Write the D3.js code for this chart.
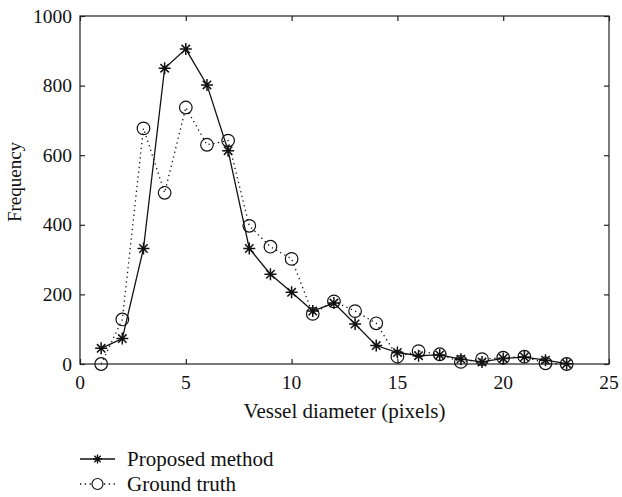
<!DOCTYPE html>
<html>
<head>
<meta charset="utf-8">
<script src="https://cdn.jsdelivr.net/npm/d3@7"></script>
<style>
  body { margin: 0; background: #fff; }
  text { font-family: "Liberation Serif", "DejaVu Serif", serif; fill: #111; }
  .ticklabel { font-size: 19.5px; }
</style>
</head>
<body>
<div class="chart"></div>
<script>
// data
var diameters = [1, 2, 3, 4, 5, 6, 7, 8, 9, 10, 11, 12, 13, 14, 15, 16, 17, 18, 19, 20, 21, 22, 23];
var proposed = [45, 73, 332, 850, 905, 802, 613, 332, 258, 206, 152, 175, 115, 53, 33, 24, 26, 14, 6, 16, 20, 11, 1];
var groundTruth = [0, 128, 677, 492, 737, 630, 642, 397, 337, 302, 144, 180, 152, 117, 21, 37, 28, 6, 14, 18, 21, 2, 0];
var xTicks = [0, 5, 10, 15, 20, 25];
var yTicks = [0, 200, 400, 600, 800, 1000];
var legendNames = ["Proposed method", "Ground truth"];

var svgWidth = 622;
var svgHeight = 497;
var margin = { top: 16, right: 13, bottom: 133, left: 80 };
var width = svgWidth - margin.left - margin.right;
var height = svgHeight - margin.top - margin.bottom;

var svg = d3.select(".chart").append("svg")
  .attr("width", svgWidth)
  .attr("height", svgHeight);

var chartGroup = svg.append("g")
  .attr("transform", `translate(${margin.left}, ${margin.top})`);

var x = d3.scaleLinear().domain([0, 25]).range([0, width]);
var y = d3.scaleLinear().domain([0, 1000]).range([height, 0]);

// box
chartGroup.append("rect")
  .attr("width", width).attr("height", height)
  .attr("fill", "none").attr("stroke", "#222").attr("stroke-width", 1.2);

// axes: tick marks only (pointing inward), labels drawn below
function styleAxis(g) {
  g.select(".domain").remove();
  g.selectAll(".tick line").attr("stroke", "#222").attr("stroke-width", 1.2);
  g.selectAll(".tick text").remove();
}
chartGroup.append("g")
  .attr("transform", `translate(0, ${height})`)
  .call(d3.axisBottom(x).tickValues(xTicks).tickSize(-5))
  .call(styleAxis);
chartGroup.append("g")
  .call(d3.axisLeft(y).tickValues(yTicks).tickSize(-5))
  .call(styleAxis);
chartGroup.append("g")
  .call(d3.axisTop(x).tickValues(xTicks).tickSize(-5))
  .call(styleAxis);
chartGroup.append("g")
  .attr("transform", `translate(${width}, 0)`)
  .call(d3.axisRight(y).tickValues(yTicks).tickSize(-5))
  .call(styleAxis);

// tick labels
chartGroup.selectAll(".xlab")
  .data(xTicks).enter().append("text")
  .attr("class", "ticklabel xlab")
  .attr("x", d => x(d)).attr("y", height + 25)
  .attr("text-anchor", "middle")
  .text(d => d);

chartGroup.selectAll(".ylab")
  .data(yTicks).enter().append("text")
  .attr("class", "ticklabel ylab")
  .attr("x", -8).attr("y", d => y(d) + 6.5)
  .attr("text-anchor", "end")
  .text(d => d);

// lines
var line = d3.line().x(d => x(d[0])).y(d => y(d[1]));
var propPts = diameters.map((d, i) => [d, proposed[i]]);
var truthPts = diameters.map((d, i) => [d, groundTruth[i]]);

chartGroup.append("path")
  .datum(truthPts)
  .attr("d", line)
  .attr("fill", "none").attr("stroke", "#111").attr("stroke-width", 1.3)
  .attr("stroke-dasharray", "1.3,3.5");

chartGroup.append("path")
  .datum(propPts)
  .attr("d", line)
  .attr("fill", "none").attr("stroke", "#111").attr("stroke-width", 1.3);

function starPath(r) {
  var s = r * 0.7;
  return `M${-r},0L${r},0M0,${-r}L0,${r}M${-s},${-s}L${s},${s}M${-s},${s}L${s},${-s}`;
}

chartGroup.selectAll(".circ")
  .data(truthPts).enter().append("circle")
  .attr("class", "circ")
  .attr("cx", d => x(d[0])).attr("cy", d => y(d[1]))
  .attr("r", 6.3)
  .attr("fill", "none").attr("stroke", "#111").attr("stroke-width", 1.2);

chartGroup.selectAll(".star")
  .data(propPts).enter().append("path")
  .attr("class", "star")
  .attr("transform", d => `translate(${x(d[0])}, ${y(d[1])})`)
  .attr("d", starPath(6))
  .attr("fill", "none").attr("stroke", "#111").attr("stroke-width", 1.5);

// axis labels
chartGroup.append("text")
  .attr("x", width / 2).attr("y", height + 54)
  .attr("text-anchor", "middle").attr("font-size", 21)
  .text("Vessel diameter (pixels)");

svg.append("text")
  .attr("transform", `translate(21, ${margin.top + height / 2 - 8}) rotate(-90)`)
  .attr("text-anchor", "middle").attr("font-size", 19)
  .text("Frequency");

// legend
var legend = svg.append("g").attr("transform", "translate(80, 459)");
legendNames.forEach(function(name, i) {
  var row = legend.append("g").attr("transform", `translate(0, ${i * 25})`);
  row.append("line")
    .attr("x1", 0).attr("x2", 35).attr("y1", 0).attr("y2", 0)
    .attr("stroke", "#111").attr("stroke-width", 1.3)
    .attr("stroke-dasharray", i === 0 ? null : "1.3,3.5");
  if (i === 0) {
    row.append("path").attr("transform", "translate(17.5,0)")
      .attr("d", starPath(4.5)).attr("stroke", "#111").attr("stroke-width", 1.4);
  } else {
    row.append("circle").attr("cx", 17.5).attr("cy", 0).attr("r", 5.5)
      .attr("fill", "#fff").attr("stroke", "#111").attr("stroke-width", 1.2);
  }
  row.append("text")
    .attr("x", 47).attr("y", 7).attr("font-size", 21)
    .text(name);
});
</script>
</body>
</html>
